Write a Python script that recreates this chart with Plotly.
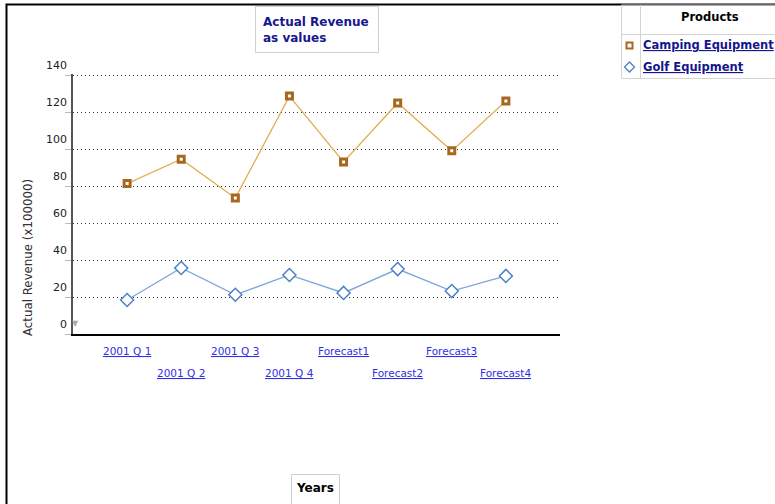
import plotly.graph_objects as go

categories = ["2001 Q 1", "2001 Q 2", "2001 Q 3", "2001 Q 4",
              "Forecast1", "Forecast2", "Forecast3", "Forecast4"]
camping = [81.3, 94.5, 73.5, 128.6, 93.0, 124.9, 99.0, 126.0]
golf = [18.4, 35.7, 21.2, 31.9, 22.2, 35.1, 23.2, 31.4]
y_ticks = [0, 20, 40, 60, 80, 100, 120, 140]
series_names = ["Camping Equipment", "Golf Equipment"]
title_text = "Actual Revenue<br>as values"
y_title = "Actual Revenue (x100000)"
x_title = "Years"
legend_title = "Products"

W, H = 775, 504
FONT = "DejaVu Sans"


def px(x):
    return x / W


def py(y):
    return 1 - y / H


idx = list(range(len(categories)))

fig = go.Figure()
fig.add_trace(go.Scatter(
    x=idx, y=camping, mode="lines+markers", name=series_names[0],
    line=dict(color="#E2AE52", width=1.3),
    marker=dict(symbol="square", size=6, color="white",
                line=dict(color="#A5681E", width=3)),
    hoverinfo="x+y"))
fig.add_trace(go.Scatter(
    x=idx, y=golf, mode="lines+markers", name=series_names[1],
    line=dict(color="#7DA7DA", width=1.3),
    marker=dict(symbol="diamond", size=10, color="white",
                line=dict(color="#4C82C3", width=1.5)),
    hoverinfo="x+y"))

annotations = []
# x category labels, staggered on two rows
for i, c in enumerate(categories):
    annotations.append(dict(
        x=i, xref="x", y=py(351 if i % 2 == 0 else 373), yref="paper",
        text="<u>%s</u>" % c, showarrow=False, xanchor="center", yanchor="middle",
        font=dict(family=FONT, size=10.5, color="#2F2FE6")))

# title
annotations.append(dict(
    x=px(261), y=py(30), xref="paper", yref="paper", text="<b>%s</b>" % title_text,
    showarrow=False, xanchor="left", yanchor="middle", align="left",
    font=dict(family=FONT, size=12, color="#16168E")))
# y title
annotations.append(dict(
    x=px(28), y=py(258), xref="paper", yref="paper", text=y_title, textangle=-90,
    showarrow=False, xanchor="center", yanchor="middle",
    font=dict(family=FONT, size=11.8, color="#333333")))
# x title
annotations.append(dict(
    x=px(315), y=py(488), xref="paper", yref="paper", text="<b>%s</b>" % x_title,
    showarrow=False, xanchor="center", yanchor="middle",
    font=dict(family=FONT, size=12, color="black")))
# legend texts
annotations.append(dict(
    x=px(710), y=py(17), xref="paper", yref="paper", text="<b>%s</b>" % legend_title,
    showarrow=False, xanchor="center", yanchor="middle",
    font=dict(family=FONT, size=11.5, color="black")))
for j, (name, yy) in enumerate(zip(series_names, [45, 67])):
    annotations.append(dict(
        x=px(641), y=py(yy), xref="paper", yref="paper", text="<b><u>%s</u></b>" % name,
        showarrow=False, xanchor="left", yanchor="middle",
        font=dict(family=FONT, size=11.5, color="#16168E")))
# small gray marker by zero
annotations.append(dict(
    x=px(75), y=py(323), xref="paper", yref="paper", text="▼",
    showarrow=False, xanchor="center", yanchor="middle",
    font=dict(family=FONT, size=8, color="#AAAAAA")))

shapes = [
    # outer frame
    dict(type="rect", xref="paper", yref="paper", x0=px(6.5), x1=px(800),
         y0=py(4.5), y1=py(520), line=dict(color="black", width=2)),
    # title box
    dict(type="rect", xref="paper", yref="paper", x0=px(255.5), x1=px(378.5),
         y0=py(6.5), y1=py(52.5), line=dict(color="#D0D0D0", width=1)),
    # x title box
    dict(type="rect", xref="paper", yref="paper", x0=px(291.5), x1=px(339.5),
         y0=py(474.5), y1=py(520), line=dict(color="#D0D0D0", width=1)),
    # legend table
    dict(type="rect", xref="paper", yref="paper", x0=px(621.5), x1=px(800),
         y0=py(5), y1=py(78.5), line=dict(color="#D4D4D4", width=1)),
    dict(type="line", xref="paper", yref="paper", x0=px(640.5), x1=px(640.5),
         y0=py(5), y1=py(78.5), line=dict(color="#D4D4D4", width=1)),
    dict(type="line", xref="paper", yref="paper", x0=px(621.5), x1=px(800),
         y0=py(34.5), y1=py(34.5), line=dict(color="#D4D4D4", width=1)),
    # legend symbols
    dict(type="rect", xref="paper", yref="paper", x0=px(626.5), x1=px(632.5),
         y0=py(42.5), y1=py(48.5), fillcolor="white",
         line=dict(color="#A5681E", width=2)),
    dict(type="path", xref="paper", yref="paper",
         path="M %f %f L %f %f L %f %f L %f %f Z" % (
             px(629.5), py(62), px(634.5), py(67), px(629.5), py(72), px(624.5), py(67)),
         fillcolor="white", line=dict(color="#4C82C3", width=1.3)),
]

fig.update_layout(
    width=W, height=H,
    margin=dict(l=0, r=0, t=0, b=0, autoexpand=False),
    paper_bgcolor="white", plot_bgcolor="white",
    showlegend=False,
    font=dict(family=FONT, size=11, color="#222222"),
    xaxis=dict(domain=[px(73), px(560)], range=[-1, len(categories)],
               showticklabels=False, showgrid=False, zeroline=False, automargin=False,
               showline=True, linecolor="black", linewidth=2, ticks=""),
    yaxis=dict(domain=[py(334), py(74)], range=[0, 140.55], tickvals=y_ticks,
               automargin=False,
               showgrid=True, gridcolor="#333333", gridwidth=1, griddash="1px,3px",
               zeroline=False, showline=True, linecolor="#555555", linewidth=1.5,
               ticks="outside", ticklen=6, tickcolor="#BBBBBB", tickwidth=1,
               ticklabelshift=-10, ticklabelstandoff=-4,
               tickfont=dict(family=FONT, size=11, color="#222222")),
    annotations=annotations,
    shapes=shapes,
)

fig.write_html("out.html", config={"displayModeBar": False},
               post_script="document.body.style.margin='0px';"
                           "document.body.style.overflow='hidden';")
